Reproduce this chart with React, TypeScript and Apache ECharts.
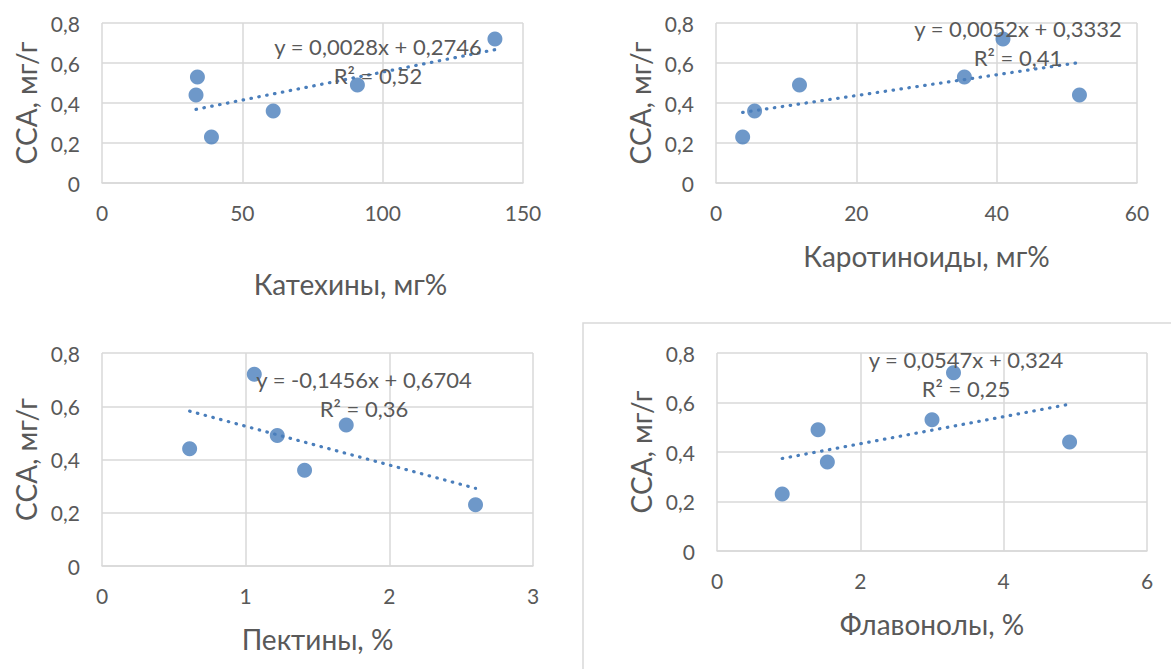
import React, { useEffect, useRef } from "react";
import * as echarts from "echarts";

// shared y values (ССА, мг/г)
const ccaValues = [0.23, 0.36, 0.44, 0.49, 0.53, 0.72];
// x values for each chart, same order as ccaValues
const catechins = [39, 61, 33.5, 91, 34, 140];
const carotenoids = [3.8, 5.5, 51.8, 11.9, 35.4, 40.9];
const pectins = [2.6, 1.41, 0.61, 1.22, 1.7, 1.06];
const flavonols = [0.91, 1.54, 4.92, 1.41, 3.0, 3.3];

// trendline coefficients (from the chart labels)
const slopes = [0.0028, 0.0052, -0.1456, 0.0547];
const intercepts = [0.2746, 0.3332, 0.6704, 0.324];
const eqLabels = [
  "y = 0,0028x + 0,2746\nR² = 0,52",
  "y = 0,0052x + 0,3332\nR² = 0,41",
  "y = -0,1456x + 0,6704\nR² = 0,36",
  "y = 0,0547x + 0,324\nR² = 0,25",
];
const xTitles = ["Катехины, мг%", "Каротиноиды, мг%", "Пектины, %", "Флавонолы, %"];
const yTitle = "ССА, мг/г";
const xMax = [150, 60, 3, 6];
const xInterval = [50, 20, 1, 2];

const FONT = "Lato";
const TXT = "#595959";
const GRID = "#d9d9d9";
const BLUE = "#4A7EBB";

export default function App() {
  const ref = useRef<HTMLDivElement>(null);
  useEffect(() => {
    if (!ref.current) return;
    const chart = echarts.init(ref.current, null, { renderer: "svg" });
    const xs = [catechins, carotenoids, pectins, flavonols];
    const grids = [
      { left: 102, top: 23, width: 421, height: 160 },
      { left: 716, top: 23, width: 421, height: 160 },
      { left: 102, top: 353, width: 431, height: 213 },
      { left: 717, top: 353, width: 430, height: 198 },
    ];
    const xNameGap = [87, 59, 59, 59];
    const xNamePad = [[0, 0, 0, 76], 0, 0, 0];
    const labelPos = [
      [378, 60.5],
      [1018, 43],
      [364, 394],
      [966, 374],
    ];
    const fmt = (v: number) => String(Number(v.toFixed(2))).replace(".", ",");

    const series: any[] = [];
    xs.forEach((arr, i) => {
      series.push({
        type: "scatter",
        xAxisIndex: i,
        yAxisIndex: i,
        symbolSize: 15,
        itemStyle: { color: BLUE },
        data: arr.map((x, k) => [x, ccaValues[k]]),
        z: 2,
      });
      const mn = Math.min(...arr);
      const mx = Math.max(...arr);
      series.push({
        type: "line",
        xAxisIndex: i,
        yAxisIndex: i,
        showSymbol: false,
        symbol: "none",
        lineStyle: { color: BLUE, width: 3.2, type: [0.5, 7.5], cap: "round" },
        data: [
          [mn, slopes[i] * mn + intercepts[i]],
          [mx, slopes[i] * mx + intercepts[i]],
        ],
        z: 3,
      });
    });

    chart.setOption({
      animation: false,
      grid: grids.map((g) => ({ ...g, containLabel: false })),
      xAxis: grids.map((_, i) => ({
        type: "value",
        gridIndex: i,
        min: 0,
        max: xMax[i],
        interval: xInterval[i],
        name: xTitles[i],
        nameLocation: "middle",
        nameGap: xNameGap[i],
        nameTextStyle: { fontFamily: FONT, fontSize: 28, color: TXT, padding: xNamePad[i] },
        axisLine: { show: true, lineStyle: { color: GRID, width: 1.5 } },
        axisTick: { show: false },
        axisLabel: { fontFamily: FONT, fontSize: 21, color: TXT, margin: 19, formatter: fmt },
        splitLine: { show: true, lineStyle: { color: GRID, width: 1.5 } },
      })),
      yAxis: grids.map((_, i) => ({
        type: "value",
        gridIndex: i,
        min: 0,
        max: 0.8,
        interval: 0.2,
        name: yTitle,
        nameLocation: "middle",
        nameGap: 62,
        nameTextStyle: { fontFamily: FONT, fontSize: 28, color: TXT },
        axisLine: { show: false },
        axisTick: { show: false },
        axisLabel: { fontFamily: FONT, fontSize: 21, color: TXT, margin: 22, formatter: fmt },
        splitLine: { show: true, lineStyle: { color: GRID, width: 1.5 } },
      })),
      series,
      graphic: [
        {
          type: "rect",
          shape: { x: 583, y: 323, width: 700, height: 500 },
          style: { fill: "none", stroke: GRID, lineWidth: 1.5 },
          z: 0,
        },
        ...eqLabels.map((t, i) => ({
          type: "text",
          x: labelPos[i][0],
          y: labelPos[i][1],
          z: 10,
          style: {
            text: t,
            fontFamily: FONT,
            fontSize: 22,
            lineHeight: 29,
            fill: TXT,
            align: "center",
            verticalAlign: "middle",
          },
        })),
      ],
    });
    return () => chart.dispose();
  }, []);
  return (
    <div
      ref={ref}
      style={{ position: "absolute", left: 0, top: 0, width: 1171, height: 669, background: "#fff" }}
    />
  );
}
